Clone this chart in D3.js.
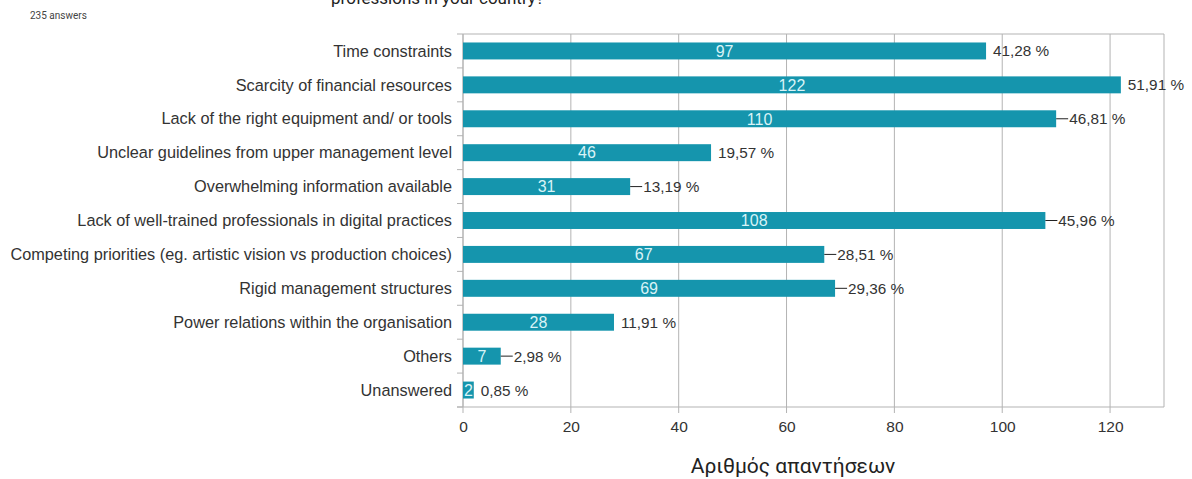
<!DOCTYPE html>
<html>
<head>
<meta charset="utf-8">
<script src="https://cdn.jsdelivr.net/npm/d3@7"></script>
<style>
  body { margin: 0; background: #fff; }
  svg { display: block; }
  .cat { font-family: "Liberation Sans", Arial, sans-serif; font-size: 16.3px; fill: #333; }
  .tick text { font-family: "Liberation Sans", Arial, sans-serif; font-size: 15.5px; fill: #333; }
</style>
</head>
<body>
<svg id="chart" width="1192" height="479"></svg>
<script>
// categories and answer counts
const categories = [
    'Time constraints',
    'Scarcity of financial resources',
    'Lack of the right equipment and/ or tools',
    'Unclear guidelines from upper management level',
    'Overwhelming information available',
    'Lack of well-trained professionals in digital practices',
    'Competing priorities (eg. artistic vision vs production choices)',
    'Rigid management structures',
    'Power relations within the organisation',
    'Others',
    'Unanswered'
];
const counts = [97, 122, 110, 46, 31, 108, 67, 69, 28, 7, 2];
// labels drawn with a small leader line in the original
const hasLeader = [false, false, true, false, true, true, true, true, false, true, false];
const totalAnswers = 235;
const xTicks = [0, 20, 40, 60, 80, 100, 120];

let svg = d3.select('#chart');
let margin = {left: 463, right: 28, top: 34, bottom: 72};
let width = 1192 - margin.left - margin.right;
let height = 479 - margin.top - margin.bottom;

let x = d3.scaleLinear().domain([0, 130]).range([0, width]);
let y = d3.scaleBand().domain(categories).range([0, height]).paddingInner(0.5).paddingOuter(0.25);

// header text (title is cut off by the top edge, as in the original)
svg.append('text')
    .attr('x', 30).attr('y', 19)
    .style('font-family', 'Roboto, sans-serif').style('font-size', '10px').style('fill', '#444')
    .text(totalAnswers + ' answers');
svg.append('text')
    .attr('x', 331).attr('y', 4)
    .style('font-family', 'Roboto, sans-serif').style('font-size', '17px').style('fill', '#222')
    .text('professions in your country?');

let g = svg.append('g').attr('transform', `translate(${margin.left},${margin.top})`);

// vertical grid lines, extending a bit below the plot
g.selectAll('.grid')
    .data(xTicks)
    .enter().append('line')
    .attr('x1', d => x(d)).attr('x2', d => x(d))
    .attr('y1', 0).attr('y2', height + 6)
    .attr('stroke', '#b3b3b3').attr('stroke-width', 1);

// plot frame
g.append('line').attr('x1', 0).attr('x2', width).attr('y1', 0).attr('y2', 0).attr('stroke', '#b3b3b3');
g.append('line').attr('x1', width).attr('x2', width).attr('y1', 0).attr('y2', height).attr('stroke', '#b3b3b3');
g.append('line').attr('x1', -6).attr('x2', width).attr('y1', height).attr('y2', height).attr('stroke', '#b3b3b3');
g.append('line').attr('x1', 0).attr('x2', 0).attr('y1', 0).attr('y2', height).attr('stroke', '#b3b3b3');

// small category separator ticks on the left
let step = y.step();
let firstTop = y(categories[0]) + y.bandwidth() / 2 - step / 2;
g.selectAll('.sep')
    .data(d3.range(categories.length + 1))
    .enter().append('line')
    .attr('x1', -6).attr('x2', 0)
    .attr('y1', i => firstTop + i * step)
    .attr('y2', i => firstTop + i * step)
    .attr('stroke', '#b3b3b3');

// x axis labels
let xAxis = d3.axisBottom(x).tickValues(xTicks).tickSize(0).tickPadding(14);
let axisG = g.append('g').attr('transform', `translate(0,${height})`).call(xAxis);
axisG.select('.domain').remove();

// category labels
g.selectAll('.cat')
    .data(categories)
    .enter().append('text')
    .classed('cat', true)
    .attr('x', -11)
    .attr('y', d => y(d) + y.bandwidth() / 2)
    .attr('dy', '0.35em')
    .attr('text-anchor', 'end')
    .text(d => d);

// bars
g.selectAll('.bar')
    .data(counts)
    .enter().append('rect')
    .attr('x', 0)
    .attr('y', (d, i) => y(categories[i]))
    .attr('width', d => x(d))
    .attr('height', y.bandwidth())
    .attr('fill', '#1595ad');

// counts inside bars
g.selectAll('.count')
    .data(counts)
    .enter().append('text')
    .attr('x', d => x(d) / 2)
    .attr('y', (d, i) => y(categories[i]) + y.bandwidth() / 2)
    .attr('dy', '0.36em')
    .attr('text-anchor', 'middle')
    .style('font-family', '"Liberation Sans", Arial, sans-serif').style('font-size', '16px')
    .style('fill', '#d9f3f7')
    .text(d => d);

// percentage labels
let fmtPct = d => (d / totalAnswers * 100).toFixed(2).replace('.', ',') + ' %';
let leaderLen = 12;
counts.forEach((d, i) => {
    if (!hasLeader[i]) return;
    let cy = y(categories[i]) + y.bandwidth() / 2;
    g.append('line')
        .attr('x1', x(d)).attr('x2', x(d) + leaderLen)
        .attr('y1', cy).attr('y2', cy)
        .attr('stroke', '#222').attr('stroke-width', 1);
});

g.selectAll('.pct')
    .data(counts)
    .enter().append('text')
    .attr('x', (d, i) => x(d) + (hasLeader[i] ? leaderLen + 1 : 7))
    .attr('y', (d, i) => y(categories[i]) + y.bandwidth() / 2)
    .attr('dy', '0.36em')
    .style('font-family', '"Liberation Sans", Arial, sans-serif').style('font-size', '15.3px')
    .style('fill', '#333')
    .text(d => fmtPct(d));

// axis title
svg.append('text')
    .attr('x', 793).attr('y', 473)
    .attr('text-anchor', 'middle')
    .style('font-family', 'Roboto, sans-serif').style('font-size', '21px').style('fill', '#222')
    .text('Αριθμός απαντήσεων');
</script>
</body>
</html>
